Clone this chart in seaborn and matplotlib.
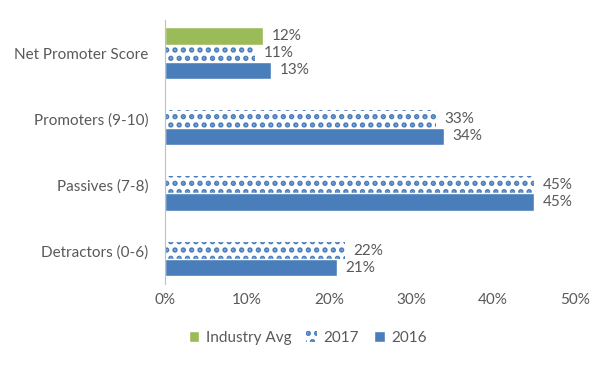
import matplotlib
matplotlib.use("Agg")
import matplotlib.pyplot as plt
import seaborn as sns
import pandas as pd
from matplotlib.ticker import PercentFormatter

categories = ["Net Promoter Score", "Promoters (9-10)", "Passives (7-8)", "Detractors (0-6)"]
series = ["Industry Avg", "2017", "2016"]
industry_avg = [12, None, None, None]
vals_2017 = [11, 33, 45, 22]
vals_2016 = [13, 34, 45, 21]

rows = []
for name, vals in zip(series, [industry_avg, vals_2017, vals_2016]):
    for cat, v in zip(categories, vals):
        if v is not None:
            rows.append({"Category": cat, "Series": name, "Value": v})
df = pd.DataFrame(rows)

sns.set_style("white")
plt.rcParams["font.family"] = ["Lato", "DejaVu Sans"]
plt.rcParams["hatch.linewidth"] = 2.6

blue = "#4a7ebb"
green = "#9bbb59"
text_gray = "#595959"

fig, ax = plt.subplots(figsize=(6.15, 3.66), dpi=100)
fig.subplots_adjust(left=0.268, right=0.935, top=0.945, bottom=0.225)

sns.barplot(data=df, y="Category", x="Value", hue="Series", order=categories,
            hue_order=series, palette=[green, blue, blue], width=0.78,
            saturation=1, orient="h", ax=ax, legend=True)

# 2017 bars get the checkerboard look
for cont, name in zip(ax.containers, series):
    for bar in cont:
        if name == "2017":
            bar.set_facecolor("white")
            bar.set_edgecolor(blue)
            bar.set_hatch("..")
            bar.set_linewidth(0)
    ax.bar_label(cont, fmt="%d%%", padding=6, color=text_gray, fontsize=11)

ax.set_xlim(0, 50)
ax.set_xticks([0, 10, 20, 30, 40, 50])
ax.xaxis.set_major_formatter(PercentFormatter(decimals=0))
ax.set_xlabel("")
ax.set_ylabel("")
ax.tick_params(axis="both", colors=text_gray, labelsize=11, length=0)
ax.tick_params(axis="y", pad=12)
ax.tick_params(axis="x", pad=7)
for s in ["top", "right", "bottom"]:
    ax.spines[s].set_visible(False)
ax.spines["left"].set_color("#bfbfbf")
ax.grid(False)

handles, labels = ax.get_legend_handles_labels()
for h, l in zip(handles, labels):
    if l == "2017":
        h.set_facecolor("white")
        h.set_edgecolor(blue)
        h.set_hatch("..")
        h.set_linewidth(0)
ax.get_legend().remove()
fig.legend(handles, labels, loc="center", bbox_to_anchor=(0.5, 0.076),
           ncol=3, frameon=False, fontsize=11, labelcolor=text_gray,
           handlelength=0.7, handleheight=0.7, columnspacing=1.0, handletextpad=0.4)

fig.savefig("out.png", dpi=100)
